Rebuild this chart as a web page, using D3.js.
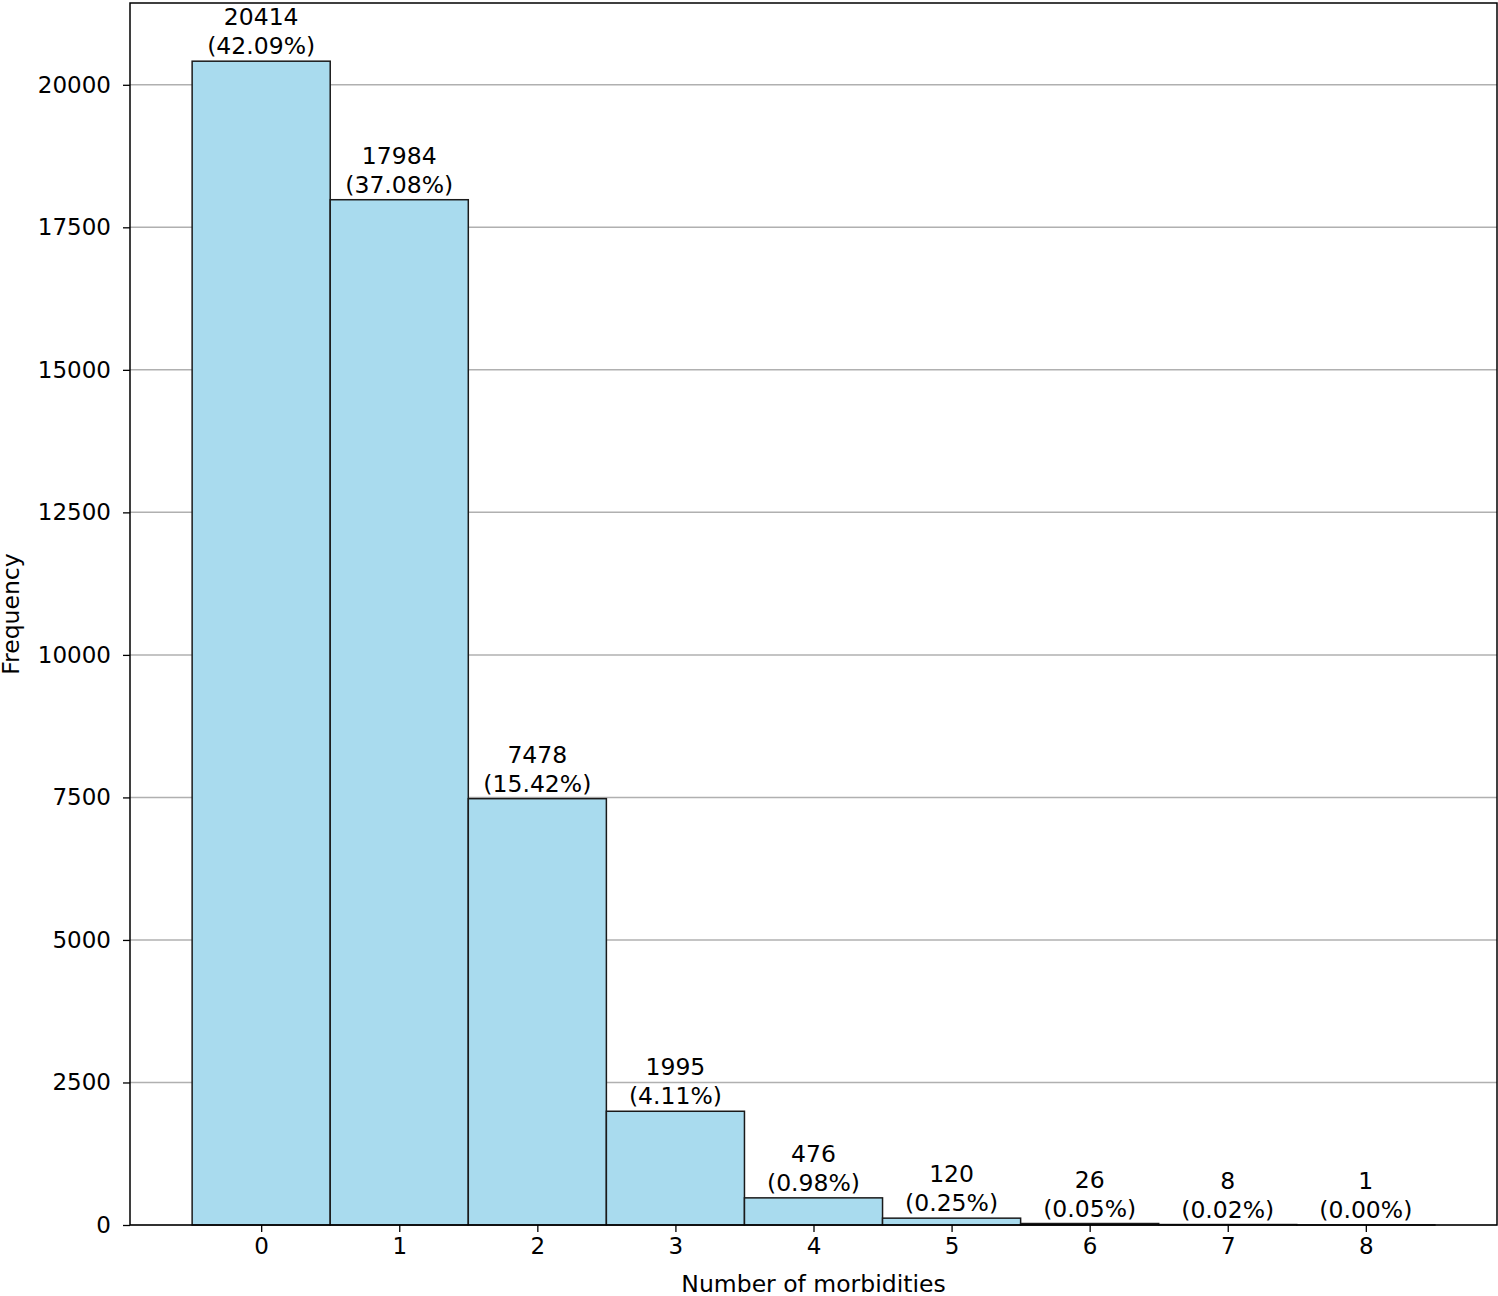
<!DOCTYPE html>
<html><head><meta charset="utf-8">
<script src="https://cdn.jsdelivr.net/npm/d3@7"></script>
<style>body{margin:0;background:#fff}text{font-family:"DejaVu Sans",sans-serif;fill:#000}</style>
</head><body><svg id="c" width="1498" height="1296"></svg>
<script>
const categories=[0,1,2,3,4,5,6,7,8];
const counts=[20414,17984,7478,1995,476,120,26,8,1];
const percents=["42.09%","37.08%","15.42%","4.11%","0.98%","0.25%","0.05%","0.02%","0.00%"];
const yTicks=[0,2500,5000,7500,10000,12500,15000,17500,20000];
const svg=d3.select("#c");
const L=130,R=1497,T=3,B=1225;
const x=d3.scaleLinear().domain([-0.95,8.95]).range([L,R]);
const y=d3.scaleLinear().domain([0,20414*1.05]).range([B,T]);
svg.append("g").selectAll("line").data(yTicks).join("line")
 .attr("x1",L).attr("x2",R).attr("y1",d=>y(d)).attr("y2",d=>y(d))
 .attr("stroke","#b0b0b0").attr("stroke-width",1.5);
svg.append("g").selectAll("rect").data(categories).join("rect")
 .attr("x",d=>x(d-0.5)).attr("width",d=>x(d+0.5)-x(d-0.5))
 .attr("y",(d,i)=>y(counts[i])).attr("height",(d,i)=>B-y(counts[i]))
 .attr("fill","#a9dbee").attr("stroke","#1a1a1a").attr("stroke-width",1.5);
const lab=svg.append("g").selectAll("text").data(categories).join("text")
 .attr("text-anchor","middle").attr("font-size",23.5);
lab.append("tspan").attr("x",d=>x(d)).attr("y",(d,i)=>y(counts[i])-36).text((d,i)=>counts[i]);
lab.append("tspan").attr("x",d=>x(d)).attr("y",(d,i)=>y(counts[i])-7).text((d,i)=>"("+percents[i]+")");
const ya=svg.append("g").attr("transform",`translate(${L},0)`)
 .call(d3.axisLeft(y).tickValues(yTicks).tickSize(7).tickPadding(12).tickFormat(d3.format("d")));
const xa=svg.append("g").attr("transform",`translate(0,${B})`)
 .call(d3.axisBottom(x).tickValues(categories).tickSize(7).tickPadding(6));
[ya,xa].forEach(a=>{a.selectAll("text").attr("font-size",23).style("font-family","DejaVu Sans");a.select(".domain").remove();a.selectAll("line").attr("stroke-width",1.3)});
svg.append("text").attr("x",x(4)).attr("y",1292).attr("text-anchor","middle").attr("font-size",23.5).text("Number of morbidities");
svg.append("rect").attr("x",L).attr("y",T).attr("width",R-L).attr("height",B-T).attr("fill","none").attr("stroke","#000").attr("stroke-width",1.5);
svg.append("text").attr("transform",`translate(19,${(T+B)/2}) rotate(-90)`).attr("text-anchor","middle").attr("font-size",23.5).text("Frequency");
</script></body></html>
